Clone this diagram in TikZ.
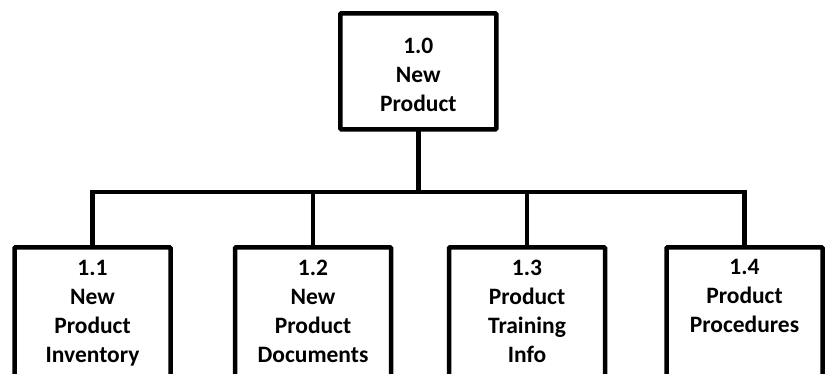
\documentclass[tikz,border=0pt]{standalone}
\usepackage{fontspec}
\setmainfont{Carlito}
\begin{document}
\begin{tikzpicture}[x=1pt,y=-1pt,
  wbsbox/.style={draw=black,line width=4.5pt,fill=white,minimum width=156pt,
    inner sep=0pt,outer sep=0pt,rounded corners=1pt},
  wbstext/.style={align=center,inner sep=0pt,outer sep=0pt,anchor=north,
    font=\fontsize{23.5pt}{29pt}\selectfont\bfseries},
  conn/.style={draw=black,line width=4.5pt}]
\useasboundingbox (0,0) rectangle (825,374);
\begin{scope}
\clip (0,0) rectangle (825,374);
% top level
\node[wbsbox,minimum height=116pt] (top) at (418.3,71.3) {};
\node[wbstext] (ttop) at (418.3,38.5) {1.0\\New\\Product};
% second level (boxes run past the lower edge)
\node[wbsbox,minimum height=180pt,anchor=north] (b1) at (92.5,247.3) {};
\node[wbsbox,minimum height=180pt,anchor=north] (b2) at (313,247.3) {};
\node[wbsbox,minimum height=180pt,anchor=north] (b3) at (527,247.3) {};
\node[wbsbox,minimum height=180pt,anchor=north] (b4) at (744.5,247.3) {};
\node[wbstext] (t1) at (92.5,260) {1.1\\New\\Product\\Inventory};
\node[wbstext] (t2) at (313,260) {1.2\\New\\Product\\Documents};
\node[wbstext] (t3) at (527,260) {1.3\\Product\\Training\\Info};
\node[wbstext] (t4) at (744.5,259.5) {1.4\\Product\\Procedures};
% connectors
\coordinate (bus) at (0,192);
\draw[conn] (top.south) -- (top.south |- bus);
\draw[conn] (b1.north) -- (b1.north |- bus) -- (b4.north |- bus) -- (b4.north);
\draw[conn] (b2.north) -- (b2.north |- bus);
\draw[conn] (b3.north) -- (b3.north |- bus);
\end{scope}
\end{tikzpicture}
\end{document}
